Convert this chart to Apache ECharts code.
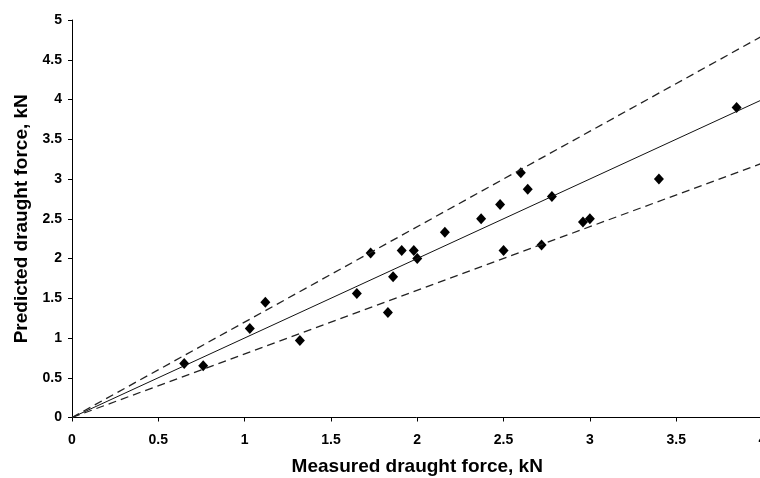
<!DOCTYPE html>
<html>
<head>
<meta charset="utf-8">
<script src="https://cdn.jsdelivr.net/npm/echarts@6/dist/echarts.min.js"></script>
<style>
html,body{margin:0;padding:0;background:#fff;}
#chart{width:760px;height:478px;}
</style>
</head>
<body>
<div id="chart"></div>
<script>
var measured = [0.65,0.76,1.03,1.12,1.32,1.65,1.73,1.83,1.86,1.91,1.98,2.00,2.16,2.37,2.48,2.50,2.60,2.64,2.72,2.78,2.96,3.00,3.40,3.85];
var predicted = [0.68,0.65,1.12,1.45,0.97,1.56,2.07,1.32,1.77,2.10,2.10,2.00,2.33,2.50,2.68,2.10,3.08,2.87,2.17,2.78,2.46,2.50,3.00,3.90];
var lineX = [0, 4];
var lineEqual = [0, 4];
var lineUpper = [0, 4.8];
var lineLower = [0, 3.2];
var xTitle = 'Measured draught force, kN';
var yTitle = 'Predicted draught force, kN';

var FONT = '"Liberation Sans", Arial, sans-serif';
function pairs(xs, ys){ return xs.map(function(x,i){ return [x, ys[i]]; }); }

var chart = echarts.init(document.getElementById('chart'), null, {renderer:'canvas'});
chart.setOption({
  animation:false,
  backgroundColor:'#fff',
  grid:{left:72, top:20, right:-2.5, bottom:60.5, containLabel:false, outerBoundsMode:'none'},
  xAxis:{
    type:'value', min:0, max:4, interval:0.5,
    name:xTitle, nameLocation:'middle', nameGap:40,
    nameTextStyle:{fontFamily:FONT, fontWeight:'bold', fontSize:19, color:'#000'},
    axisLine:{show:true, onZero:false, lineStyle:{color:'#000', width:1}},
    axisTick:{show:true, length:4, lineStyle:{color:'#000'}},
    axisLabel:{fontFamily:FONT, fontWeight:'bold', fontSize:14, color:'#000', margin:16, showMaxLabel:true, hideOverlap:false},
    splitLine:{show:false}
  },
  yAxis:{
    type:'value', min:0, max:5, interval:0.5,
    name:yTitle, nameLocation:'middle', nameGap:40,
    nameTextStyle:{fontFamily:FONT, fontWeight:'bold', fontSize:19, color:'#000'},
    axisLine:{show:true, onZero:false, lineStyle:{color:'#000', width:1}},
    axisTick:{show:true, length:4, lineStyle:{color:'#000'}},
    axisLabel:{fontFamily:FONT, fontWeight:'bold', fontSize:14, color:'#000', margin:10},
    splitLine:{show:false}
  },
  series:[
    {type:'line', data:pairs(lineX, lineEqual), symbol:'none', silent:true,
     lineStyle:{color:'#111', width:1, type:'solid'}, clip:false},
    {type:'line', data:pairs(lineX, lineUpper), symbol:'none', silent:true,
     lineStyle:{color:'#222', width:1.3, type:[8,5]}, clip:false},
    {type:'line', data:pairs(lineX, lineLower), symbol:'none', silent:true,
     lineStyle:{color:'#222', width:1.3, type:[8,5]}, clip:false},
    {type:'scatter', data:pairs(measured, predicted), symbol:'diamond', symbolSize:[10,11],
     itemStyle:{color:'#000', opacity:1}}
  ]
});
</script>
</body>
</html>
